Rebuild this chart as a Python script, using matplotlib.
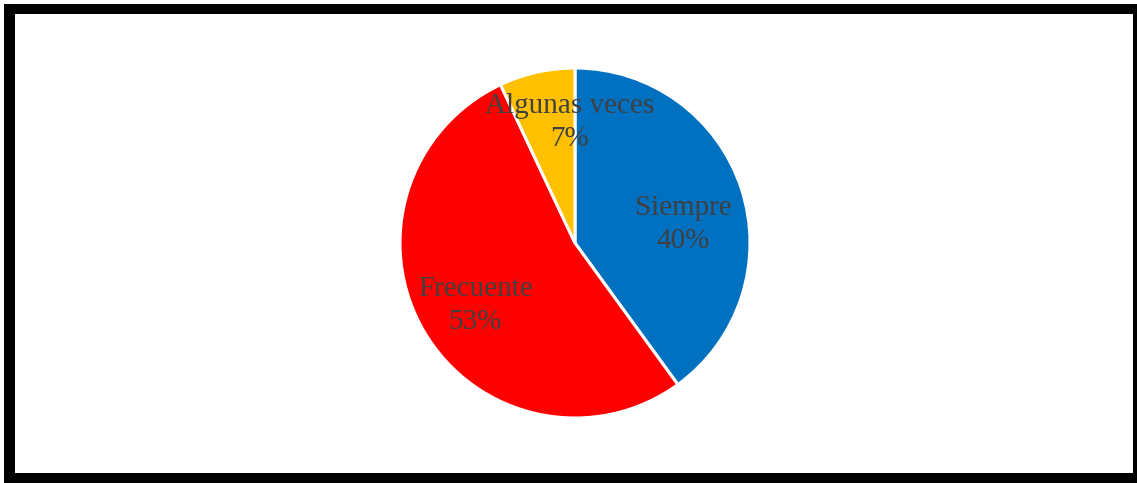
import matplotlib.pyplot as plt
from matplotlib.patches import Rectangle

# datos del gráfico
categorias = ['Siempre', 'Frecuente', 'Algunas veces']
porcentajes = [40, 53, 7]
colores = ['#0070C0', '#FF0000', '#FFC000']

# posición de cada etiqueta dentro del círculo (radio = 1)
pos_etiquetas = [(0.617, 0.103), (-0.571, -0.355), (-0.029, 0.686)]

W, H = 1137, 483
fig = plt.figure(figsize=(W / 100, H / 100), dpi=100)

# marco negro grueso
fig.patches.append(Rectangle((4 / W, 0), 1 - 4 / W, 1 - 4 / H, transform=fig.transFigure,
                             facecolor='black', edgecolor='none', zorder=-2))
fig.patches.append(Rectangle((15 / W, 10 / H), (1133 - 15) / W, (473 - 14) / H,
                             transform=fig.transFigure, facecolor='white',
                             edgecolor='none', zorder=-1))

ax = fig.add_axes([400 / W, (H - 418) / H, 350 / W, 350 / H])
ax.set_zorder(1)
ax.pie(porcentajes, colors=colores, startangle=90, counterclock=False, radius=1,
       wedgeprops=dict(edgecolor='white', linewidth=2.2))
ax.set_xlim(-1, 1)
ax.set_ylim(-1, 1)
ax.set_aspect('equal')
ax.axis('off')

for cat, pct, (x, y) in zip(categorias, porcentajes, pos_etiquetas):
    ax.text(x, y, f'{cat}\n{pct}%', ha='center', va='center', fontsize=21,
            family='Liberation Serif', color='#404040', linespacing=1.35)

fig.savefig('out.png', dpi=100)
